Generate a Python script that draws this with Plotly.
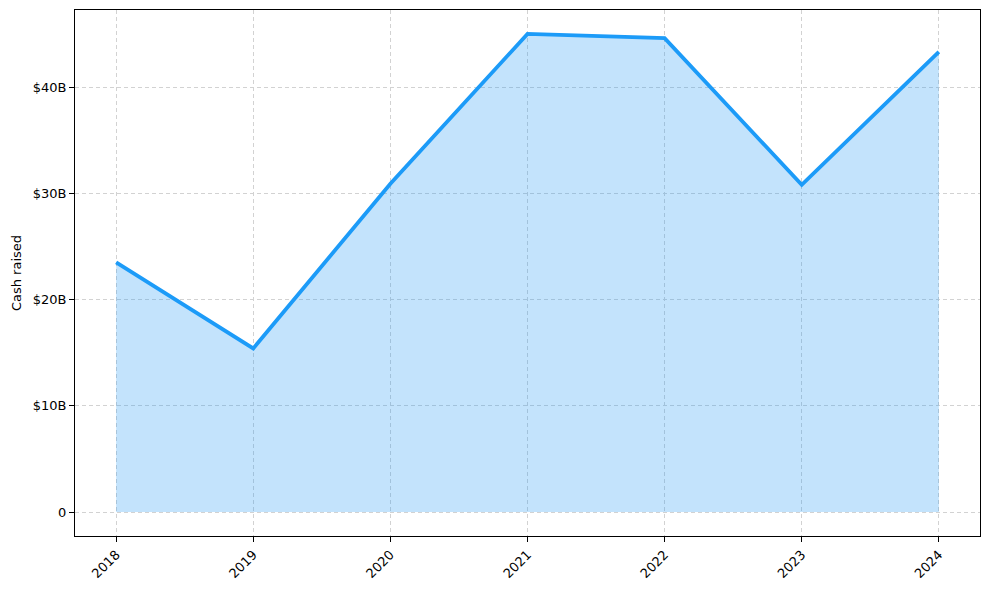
import plotly.graph_objects as go

years = [2018, 2019, 2020, 2021, 2022, 2023, 2024]
cash_raised_b = [23.5, 15.4, 30.9, 45.0, 44.6, 30.8, 43.3]  # billions USD

y_tick_vals = [0, 10, 20, 30, 40]
y_tick_text = ["0", "$10B", "$20B", "$30B", "$40B"]

LINE = "#1C9BF8"
FILL = "rgba(33,150,243,0.27)"
GRID = "#d2d2d2"

fig = go.Figure()
fig.add_trace(
    go.Scatter(
        x=years,
        y=cash_raised_b,
        mode="lines",
        fill="tozeroy",
        fillcolor=FILL,
        line=dict(color=LINE, width=3.8),
        hovertemplate="%{x}: $%{y:.1f}B<extra></extra>",
    )
)

axis_common = dict(
    automargin=False,
    showline=True,
    linecolor="black",
    linewidth=1,
    mirror=True,
    ticks="outside",
    ticklen=5,
    tickcolor="black",
    showgrid=True,
    gridcolor=GRID,
    griddash="4px,3px",
    gridwidth=1,
    zeroline=False,
    tickfont=dict(family="DejaVu Sans", size=13, color="black"),
)

# page body has an 8px default margin, so the figure is sized to fit inside it
fig.update_layout(
    width=981,
    height=574,
    margin=dict(l=67, r=9, t=2, b=46),
    plot_bgcolor="white",
    paper_bgcolor="white",
    showlegend=False,
    font=dict(family="DejaVu Sans", size=13, color="black"),
    xaxis=dict(
        **axis_common,
        range=[2017.7, 2024.3],
        tickvals=years,
        ticktext=[str(y) for y in years],
        tickangle=-45,
    ),
    yaxis=dict(
        **axis_common,
        range=[-2.25, 47.25],
        tickvals=y_tick_vals,
        ticktext=y_tick_text,
        title=dict(text="Cash raised", font=dict(size=13), standoff=8),
    ),
)

fig.write_html("out.html")
